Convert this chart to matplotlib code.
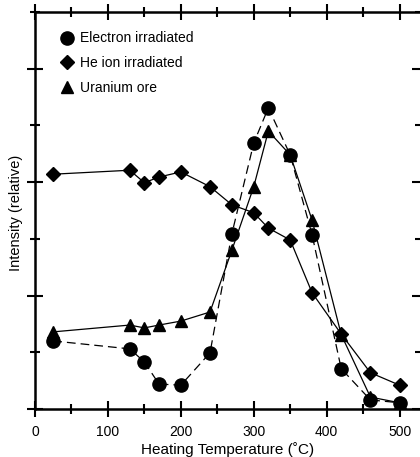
import matplotlib.pyplot as plt
from matplotlib.lines import Line2D
from matplotlib.ticker import MultipleLocator

plt.rcParams["font.family"] = ["Liberation Sans", "DejaVu Sans"]

temperatura = [25, 130, 150, 170, 200, 240, 270, 300, 320, 350, 380, 420, 460, 500]
electron = [1.20, 1.06, 0.83, 0.44, 0.42, 0.99, 3.09, 4.69, 5.31, 4.48, 3.07, 0.71, 0.16, 0.11]
he_ion = [4.14, 4.21, 3.99, 4.09, 4.18, 3.92, 3.60, 3.46, 3.19, 2.98, 2.05, 1.32, 0.64, 0.42]
uranio = [1.36, 1.48, 1.43, 1.48, 1.55, 1.71, 2.80, 3.92, 4.90, 4.48, 3.33, 1.31, 0.21, 0.11]

etiquetas = ["Electron irradiated", "He ion irradiated", "Uranium ore"]

fig = plt.figure(figsize=(4.2, 4.57), dpi=100)
ax = fig.add_axes([35 / 420, 48 / 457, 385 / 420, 397 / 457])

ax.plot(temperatura, he_ion, color="black", lw=0.9, marker="D", ms=7, zorder=3)
ax.plot(temperatura, uranio, color="black", lw=0.9, marker="^", ms=9, zorder=3)
ax.plot(temperatura, electron, color="black", lw=0.9, ls=(0, (7, 4)), marker="o", ms=9.5, zorder=4)

ax.set_xlim(0, 528)
ax.set_ylim(0, 7)
ax.xaxis.set_major_locator(MultipleLocator(100))
ax.xaxis.set_minor_locator(MultipleLocator(50))
ax.yaxis.set_major_locator(MultipleLocator(2))
ax.yaxis.set_minor_locator(MultipleLocator(1))
ax.set_yticklabels([])

ax.tick_params(which="both", direction="inout", top=True, right=True, width=1.5, labelsize=10)
ax.tick_params(which="major", length=11)
ax.tick_params(which="minor", length=7)
ax.tick_params(axis="x", pad=6)
for lado in ["left", "bottom", "top"]:
    ax.spines[lado].set_linewidth(1.8)
ax.spines["right"].set_visible(False)

ax.set_xlabel("Heating Temperature (˚C)", fontsize=11, labelpad=2)
ax.set_ylabel("Intensity (relative)", fontsize=10.5, va="center")
ax.yaxis.set_label_coords(-0.05, 0.494)

manejadores = [
    Line2D([], [], color="black", ls="none", marker="o", ms=9.5),
    Line2D([], [], color="black", ls="none", marker="D", ms=7),
    Line2D([], [], color="black", ls="none", marker="^", ms=9),
]
ax.legend(manejadores, etiquetas, loc="upper left", bbox_to_anchor=(0.05, 0.965),
          frameon=False, fontsize=10, handlelength=1.0, handletextpad=0.45,
          labelspacing=0.78, borderaxespad=0)

fig.savefig("out.png", dpi=100)
